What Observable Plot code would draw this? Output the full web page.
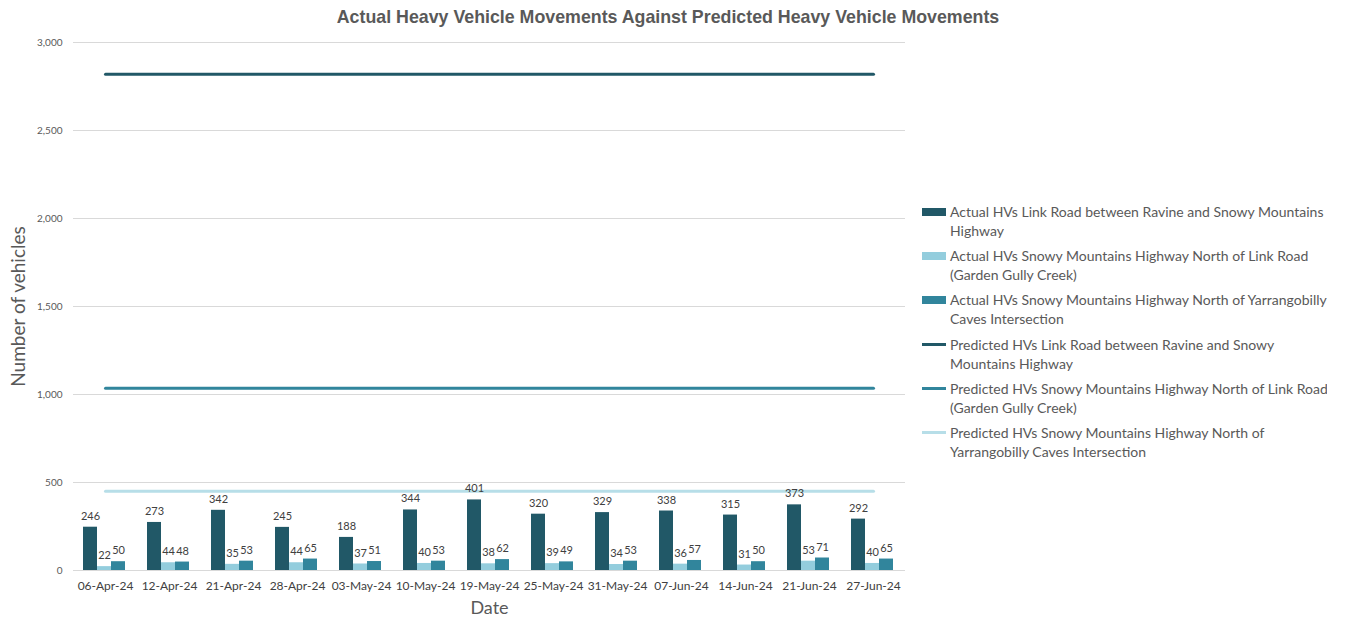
<!DOCTYPE html>
<html>
<head>
<meta charset="utf-8">
<script src="https://cdn.jsdelivr.net/npm/d3@7"></script>
<script src="https://cdn.jsdelivr.net/npm/@observablehq/plot@0.6"></script>
<style>
  body { margin: 0; background: #fff; }
  #wrap { position: relative; width: 1346px; height: 620px; overflow: hidden; background: #fff; }
  #title { height: 30px; width: 1336px; text-align: center;
           font: bold 17.8px "Liberation Sans", Arial, sans-serif; line-height: 34px; color: #595959; }
  #legend { position: absolute; left: 922px; top: 202px; width: 405px; overflow: hidden;
            font-family: Lato, "Open Sans", sans-serif; font-size: 14px; color: #595959; }
  .item { position: relative; height: 44.2px; white-space: nowrap; }
  .sw { position: absolute; left: 0; }
  .txt { position: absolute; left: 28px; top: 0; line-height: 19px; }
</style>
</head>
<body>
<div id="wrap">
  <div id="title">Actual Heavy Vehicle Movements Against Predicted Heavy Vehicle Movements</div>
  <div id="chart"></div>
  <div id="legend"></div>
</div>
<script>
// ---- data ----
const dates = ["06-Apr-24","12-Apr-24","21-Apr-24","28-Apr-24","03-May-24","10-May-24","19-May-24","25-May-24","31-May-24","07-Jun-24","14-Jun-24","21-Jun-24","27-Jun-24"];
const actualLinkRoad = [246,273,342,245,188,344,401,320,329,338,315,373,292];
const actualSmhNorthLink = [22,44,35,44,37,40,38,39,34,36,31,53,40];
const actualSmhNorthYarr = [50,48,53,65,51,53,62,49,53,57,50,71,65];
const predictedLinkRoad = 2820;
const predictedSmhNorthLink = 1035;
const predictedSmhNorthYarr = 450;
const yTicks = [0,500,1000,1500,2000,2500,3000];

const seriesNames = [
  ["Actual HVs Link Road between Ravine and Snowy Mountains", "Highway"],
  ["Actual HVs Snowy Mountains Highway North of Link Road", "(Garden Gully Creek)"],
  ["Actual HVs Snowy Mountains Highway North of Yarrangobilly", "Caves Intersection"],
  ["Predicted HVs Link Road between Ravine and Snowy", "Mountains Highway"],
  ["Predicted HVs Snowy Mountains Highway North of Link Road", "(Garden Gully Creek)"],
  ["Predicted HVs Snowy Mountains Highway North of", "Yarrangobilly Caves Intersection"]
];
const colors = ["#215867", "#93cddd", "#31859c", "#215867", "#31859c", "#b7dee8"];

// ---- tables ----
const barSeries = [actualLinkRoad, actualSmhNorthLink, actualSmhNorthYarr];
const bars = barSeries.map((vals, s) => dates.map((d, i) => ({date: d, value: vals[i], s})));
const predVals = [predictedLinkRoad, predictedSmhNorthLink, predictedSmhNorthYarr];
const lines = predVals.map((v, s) => dates.map(d => ({date: d, value: v, s})));

// bar placement inside each 64px category band
const insets = [[10, 40], [24, 26], [38, 12]];
const labelDx = [-15, -1, 13];

const marks = [
  Plot.gridY(yTicks, {stroke: "#d9d9d9", strokeOpacity: 1, strokeWidth: 1}),
  Plot.axisY(yTicks, {tickSize: 0, tickPadding: 11, tickFormat: d3.format(","), fontSize: 10, color: "#595959", label: null}),
  Plot.axisX({tickSize: 0, tickPadding: 11, fontSize: 12, color: "#404040", label: null}),
  ...bars.map((b, s) => Plot.barY(b, {x: "date", y: "value", fill: colors[s], insetLeft: insets[s][0], insetRight: insets[s][1]})),
  ...lines.map((l, s) => Plot.lineY(l, {x: "date", y: "value", stroke: colors[3 + s], strokeWidth: 3})),
  ...bars.map((b, s) => Plot.text(b, {x: "date", y: "value", text: d => String(d.value), dx: labelDx[s], dy: -11, fill: "#404040", fontSize: 11})),
  Plot.text(["Number of vehicles"], {frameAnchor: "left", textAnchor: "middle", dx: -55, rotate: -90, fontSize: 19, fill: "#595959"}),
  Plot.text(["Date"], {frameAnchor: "bottom", dy: 43, fontSize: 18, fill: "#595959"})
];

const chart = Plot.plot({
  width: 920,
  height: 590,
  marginTop: 12,
  marginBottom: 50,
  marginLeft: 73,
  marginRight: 15,
  style: {fontFamily: "Lato, 'Open Sans', sans-serif", background: "transparent", color: "#595959"},
  x: {type: "band", domain: dates, padding: 0},
  y: {domain: [0, 3000]},
  marks
});
document.getElementById("chart").appendChild(chart);

// ---- legend ----
const legend = document.getElementById("legend");
seriesNames.forEach((lines2, i) => {
  const item = document.createElement("div");
  item.className = "item";
  const sw = document.createElement("div");
  sw.className = "sw";
  if (i < 3) {
    sw.style.cssText = `top:6px;width:24px;height:8px;background:${colors[i]}`;
  } else {
    sw.style.cssText = `top:8.5px;width:24px;height:3px;background:${colors[i]}`;
  }
  const txt = document.createElement("div");
  txt.className = "txt";
  txt.innerHTML = lines2.join("<br>");
  item.appendChild(sw);
  item.appendChild(txt);
  legend.appendChild(item);
});
</script>
</body>
</html>
